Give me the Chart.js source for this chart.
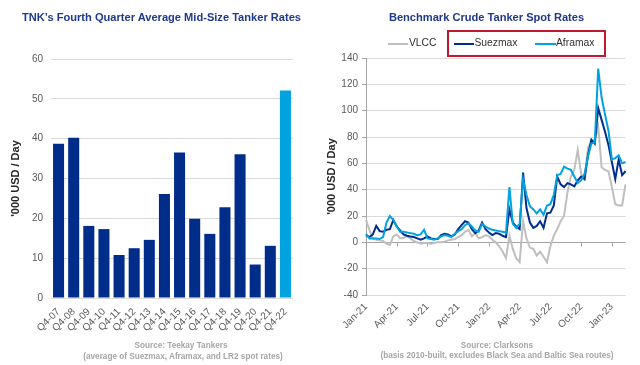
<!DOCTYPE html>
<html>
<head>
<meta charset="utf-8">
<script src="https://cdn.jsdelivr.net/npm/chart.js@4.4.0/dist/chart.umd.min.js"></script>
<style>
html,body{margin:0;padding:0;background:#fff;}
body{width:640px;height:365px;position:relative;overflow:hidden;font-family:"Liberation Sans",Arial,sans-serif;}
canvas{position:absolute;top:0;}
#c-left{left:0;}
#c-right{left:320px;}
.title{position:absolute;top:12px;font-weight:bold;font-size:11.1px;line-height:1;color:#1F3A8A;white-space:nowrap;transform:translateX(-50%);}
.src{position:absolute;font-weight:bold;font-size:8.2px;line-height:1;color:#A6A6A6;white-space:nowrap;transform:translateX(-50%);}
.lg-line{position:absolute;top:42.5px;height:2px;}
.lg-text{position:absolute;top:38.3px;font-size:10.3px;line-height:1;color:#303030;white-space:nowrap;}
.redbox{position:absolute;left:447px;top:30px;width:159px;height:27px;border:2px solid #C0182F;box-sizing:border-box;}
</style>
</head>
<body>
<canvas id="c-left" width="320" height="365"></canvas>
<canvas id="c-right" width="320" height="365"></canvas>

<div class="title" style="left:161.5px">TNK’s Fourth Quarter Average Mid-Size Tanker Rates</div>
<div class="title" style="left:486.5px">Benchmark Crude Tanker Spot Rates</div>

<div class="lg-line" style="left:388px;width:20px;background:#BFBFBF"></div>
<div class="lg-text" style="left:409px">VLCC</div>
<div class="lg-line" style="left:454px;width:20px;background:#002D8A"></div>
<div class="lg-text" style="left:474.5px">Suezmax</div>
<div class="lg-line" style="left:535px;width:21px;background:#00A3E0"></div>
<div class="lg-text" style="left:556px">Aframax</div>
<div class="redbox"></div>

<div class="src" style="left:181px;top:342px">Source: Teekay Tankers</div>
<div class="src" style="left:183px;top:352.5px">(average of Suezmax, Aframax, and LR2 spot rates)</div>
<div class="src" style="left:497px;top:342px">Source: Clarksons</div>
<div class="src" style="left:497px;top:351.5px">(basis 2010-built, excludes Black Sea and Baltic Sea routes)</div>

<script>
const FONT='"Liberation Sans", Arial, sans-serif';
const NAVY='#002D8A', SKY='#00A3E0', GREY='#BFBFBF';
const TICK_COL='#595959', GRID_COL='#D9D9D9', AXIS_COL='#A6A6A6';

// left: Q4 average mid-size tanker rates ('000 USD/day)
const Q4_LABELS=['Q4-07','Q4-08','Q4-09','Q4-10','Q4-11','Q4-12','Q4-13','Q4-14','Q4-15','Q4-16','Q4-17','Q4-18','Q4-19','Q4-20','Q4-21','Q4-22'];
const Q4_RATES=[38.7,40.2,18.1,17.3,10.8,12.5,14.6,26.1,36.5,19.9,16.1,22.8,36.1,8.4,13.1,52.1];

// right: spot rates, one reading every ~10 days from Jan-21 (3 per month, 9 per quarter)
const QUARTER_TICKS=['Jan-21','Apr-21','Jul-21','Oct-21','Jan-22','Apr-22','Jul-22','Oct-22','Jan-23'];
const PER_QUARTER=9;
const SUEZMAX=[5.5,4,6,12.5,8.5,8,9.5,10,17,12,
  9,6,5,4.5,4,3,2,3,4.5,3,
  2.5,2.5,5.5,6.5,6,4.5,6,10,13,16,
  15,10,7,9,15,10,7.5,5.5,7,6.5,
  5,4,25,15,12,10,53,26,15,11,
  12.5,16,11,22,22.5,28,50,44,42,45,
  44,42.5,47,50,48,66,78,75,102,93,
  84,74,61,48,63,51,54];
const AFRAMAX=[6.5,3,3,3,2.5,4,15,20,17,12,
  8,8,7.5,7,6.5,5.5,6,9.5,3,2.5,
  2,3,4.5,5.5,5,4,6.5,8.5,10,13,
  14.5,12,9,8,14,12,10.5,9.5,9,8.5,
  8,7.5,42,14,11,14,48,36,27.5,25,
  22,25,21,28,29,36,51,52,57.5,56,
  55,50,45,47,52,65,75,76,132,110,
  97,85,63,64,66,60,61];
const VLCC=[17,9.5,3,2,1.5,1,-1,-2,4.5,6,
  3,3.5,4.5,3,1,0,-1,-0.5,-0.5,-1,
  -0.5,0,0,0.5,1.5,2,2.5,4,5.5,8,
  9.5,4.5,7,3,4,5.5,4.5,2,0,-3,
  -7,-12,5,-5,-12,-15,16,3,-4,-5,
  -10,-7,-11,-15,-3,5,10,16,20,38,
  50,55,70,52,48,72,76,78,88,57,
  55,54,42,29,28,28,44];

Chart.defaults.font.family=FONT;
Chart.defaults.animation=false;

const yTitle={display:true,text:"'000 USD / Day",color:'#262626',font:{size:11,weight:'bold'}};

new Chart(document.getElementById('c-left'),{
  type:'bar',
  data:{labels:Q4_LABELS,datasets:[{
    data:Q4_RATES,
    backgroundColor:Q4_LABELS.map((l,i)=>i===Q4_LABELS.length-1?SKY:NAVY),
    barPercentage:0.73,categoryPercentage:1,borderWidth:0
  }]},
  options:{
    responsive:false,devicePixelRatio:1,
    layout:{padding:{top:59,right:27,left:0,bottom:0}},
    plugins:{legend:{display:false},tooltip:{enabled:false}},
    scales:{
      x:{grid:{display:false,drawTicks:false},border:{display:false},
        ticks:{color:TICK_COL,font:{size:10},autoSkip:false,minRotation:45,maxRotation:45,padding:8},
        afterFit(s){s.height=67;}},
      y:{min:0,max:60,
        ticks:{stepSize:10,color:TICK_COL,font:{size:10},padding:8},
        grid:{color:GRID_COL,drawTicks:false},border:{display:false},
        title:{...yTitle,padding:{top:9,bottom:0}},
        afterFit(s){s.width=51;}}
    }
  }
});

// category labels: a tick label at the first reading of each quarter
const spotLabels=SUEZMAX.map((v,i)=>i%PER_QUARTER===0?(QUARTER_TICKS[i/PER_QUARTER]||''):'');

const zeroAxis={
  id:'zeroAxis',
  beforeDatasetsDraw(chart){
    const {ctx,scales:{x,y}}=chart;
    const y0=Math.round(y.getPixelForValue(0))+0.5;
    ctx.save();
    ctx.strokeStyle=AXIS_COL;ctx.lineWidth=1;
    ctx.beginPath();
    ctx.moveTo(x.left,y0);ctx.lineTo(x.right,y0);
    spotLabels.forEach((l,i)=>{
      if(!l)return;
      const px=Math.round(x.getPixelForValue(i))+0.5;
      ctx.moveTo(px,y0);ctx.lineTo(px,y0+4);
    });
    ctx.stroke();
    ctx.restore();
  }
};

const lineDs=(data,color)=>({data,borderColor:color,borderWidth:2,pointRadius:0,tension:0,fill:false});

new Chart(document.getElementById('c-right'),{
  type:'line',
  data:{labels:spotLabels,datasets:[lineDs(AFRAMAX,SKY),lineDs(SUEZMAX,NAVY),lineDs(VLCC,GREY)]},
  options:{
    responsive:false,devicePixelRatio:1,
    layout:{padding:{top:58,right:14,left:0,bottom:0}},
    plugins:{legend:{display:false},tooltip:{enabled:false}},
    scales:{
      x:{grid:{display:false,drawTicks:false},border:{display:false},
        ticks:{color:TICK_COL,font:{size:10},autoSkip:false,minRotation:45,maxRotation:45,padding:6},
        afterFit(s){s.height=70;}},
      y:{min:-40,max:140,
        ticks:{stepSize:20,color:TICK_COL,font:{size:10},padding:4},
        grid:{color:GRID_COL,tickColor:AXIS_COL,tickLength:4},
        border:{display:true,color:AXIS_COL},
        title:{...yTitle,padding:{top:5,bottom:0}},
        afterFit(s){s.width=46;}}
    }
  },
  plugins:[zeroAxis]
});
</script>
</body>
</html>
